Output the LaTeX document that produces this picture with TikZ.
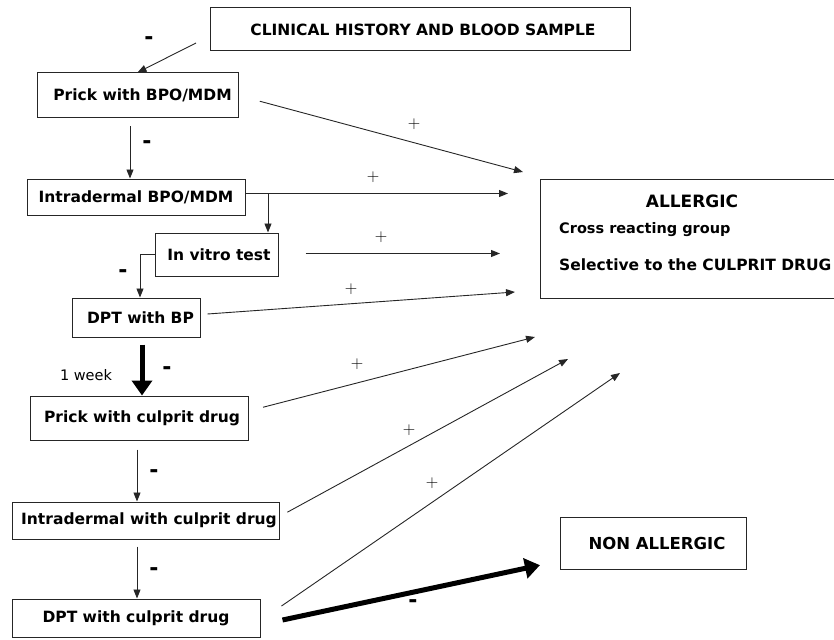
\documentclass[tikz,border=0pt]{standalone}
\usepackage{fontspec}
\setmainfont{DejaVu Sans}
\usetikzlibrary{arrows.meta}
\begin{document}
\begin{tikzpicture}[x=1pt,y=-1pt,
  box/.style={draw=black!85, line width=1pt, inner sep=0pt, font=\fontsize{15.5}{18}\selectfont\bfseries},
  txt/.style={inner sep=0pt, font=\fontsize{15.5}{18}\selectfont\bfseries},
  arr/.style={draw=black!85, line width=0.9pt, -{Triangle[length=9pt,width=7pt]}},
  bigarr/.style={draw=black, line width=5pt, -{Triangle[length=15pt,width=20pt]}},
  plus/.style={inner sep=0pt, font=\fontsize{17}{17}\selectfont},
  minus/.style={inner sep=0pt, font=\fontsize{22}{22}\selectfont\bfseries},
]
\useasboundingbox (0,0) rectangle (834,639);
\clip (0,0) rectangle (834,639);

% boxes
\node[box, minimum width=420pt, minimum height=43pt] (clin) at (420,29.5) {\hspace{6pt}CLINICAL HISTORY AND BLOOD SAMPLE};
\node[box, minimum width=201pt, minimum height=45pt] (pbpo) at (137.5,95.5) {\hspace{10pt}Prick with BPO/MDM};
\node[box, minimum width=218pt, minimum height=36pt] (ibpo) at (136,197) {Intradermal BPO/MDM};
\node[box, minimum width=123pt, minimum height=43pt] (vitro) at (216.5,254.5) {\hspace{5pt}In vitro test};
\node[box, minimum width=128pt, minimum height=39pt] (dptbp) at (136,317.5) {\hspace{9pt}DPT with BP};
\node[box, minimum width=218pt, minimum height=44pt] (pcul) at (139,418) {\hspace{6pt}Prick with culprit drug};
\node[box, minimum width=267pt, minimum height=37pt] (icul) at (145.5,520.5) {\hspace{7pt}Intradermal with culprit drug};
\node[box, minimum width=248pt, minimum height=38pt] (dcul) at (136,618) {DPT with culprit drug\hspace{22pt}};
\node[box, minimum width=310pt, minimum height=119pt] (allg) at (695,238.5) {};
\node[box, minimum width=186pt, minimum height=52pt, font=\fontsize{16.5}{18}\selectfont\bfseries] (nonall) at (653,543) {\hspace{8pt}NON ALLERGIC};

% texts in ALLERGIC box
\node[txt, font=\fontsize{17}{18}\selectfont\bfseries] (al1) at (692,201) {ALLERGIC};
\node[txt, anchor=west, font=\fontsize{14.5}{16}\selectfont\bfseries] (al2) at (559,230) {Cross reacting group};
\node[txt, anchor=west, font=\fontsize{15.5}{17}\selectfont\bfseries] (al3) at (559,265) {Selective to the CULPRIT DRUG};

% free ends
\coordinate (s1) at (196,43);
\coordinate (a1) at (523,172);
\coordinate (a2) at (508,193.5);
\coordinate (a3) at (500,253.5);
\coordinate (a4) at (515,292);
\coordinate (a5) at (535,337);
\coordinate (a6) at (568,359);
\coordinate (a7) at (620,373);

% connectors
\draw[arr] (s1) -- (pbpo.north);
\draw[arr, shorten <=22pt] (pbpo.east) -- (a1);
\draw[arr, shorten <=8pt] ([xshift=-7.5pt]pbpo.south) -- ([xshift=-6pt]ibpo.north);
\draw[arr] ([yshift=3.5pt]ibpo.east) -- (a2);
\draw[arr] ([yshift=3.5pt]ibpo.east) -| ([xshift=51.5pt]vitro.north);
\draw[arr, shorten <=27pt] ([yshift=1pt]vitro.east) -- (a3);
\draw[arr] (vitro.west) -| ([xshift=4pt]dptbp.north);
\draw[arr, shorten <=7pt] ([yshift=3pt]dptbp.east) -- (a4);
\draw[bigarr, shorten <=7pt] ([xshift=6pt]dptbp.south) -- ([xshift=3pt]pcul.north);
\draw[arr, shorten <=15pt] ([yshift=7pt]pcul.east) -- (a5);
\draw[arr, shorten <=9pt] ([xshift=-2pt]pcul.south) -- ([xshift=-8.5pt]icul.north);
\draw[arr, shorten <=9pt] ([yshift=4pt]icul.east) -- (a6);
\draw[arr, shorten <=7pt] ([xshift=-8.5pt]icul.south) -- ([xshift=1pt]dcul.north);
\draw[arr] ([xshift=21pt,yshift=12pt]dcul.east) -- (a7);
\draw[bigarr, shorten >=20pt] ([xshift=22pt,yshift=-2pt]dcul.east) -- ([yshift=-18pt]nonall.west);

% labels
\node[minus] (m1) at (149,41) {-};
\node[minus] (m2) at (147,145) {-};
\node[minus] (m3) at (123,274) {-};
\node[minus] (m4) at (167,371) {-};
\node[txt, font=\fontsize{14.5}{16}\selectfont] (wk) at (86,375) {1 week};
\node[minus] (m5) at (154,474) {-};
\node[minus] (m6) at (154,572) {-};
\node[minus] (m7) at (413,604) {-};

\node[plus] (p1) at (414,124) {$+$};
\node[plus] (p2) at (373,177) {$+$};
\node[plus] (p3) at (381,237) {$+$};
\node[plus] (p4) at (351,289) {$+$};
\node[plus] (p5) at (357,364) {$+$};
\node[plus] (p6) at (409,430) {$+$};
\node[plus] (p7) at (432,483) {$+$};
\end{tikzpicture}
\end{document}
